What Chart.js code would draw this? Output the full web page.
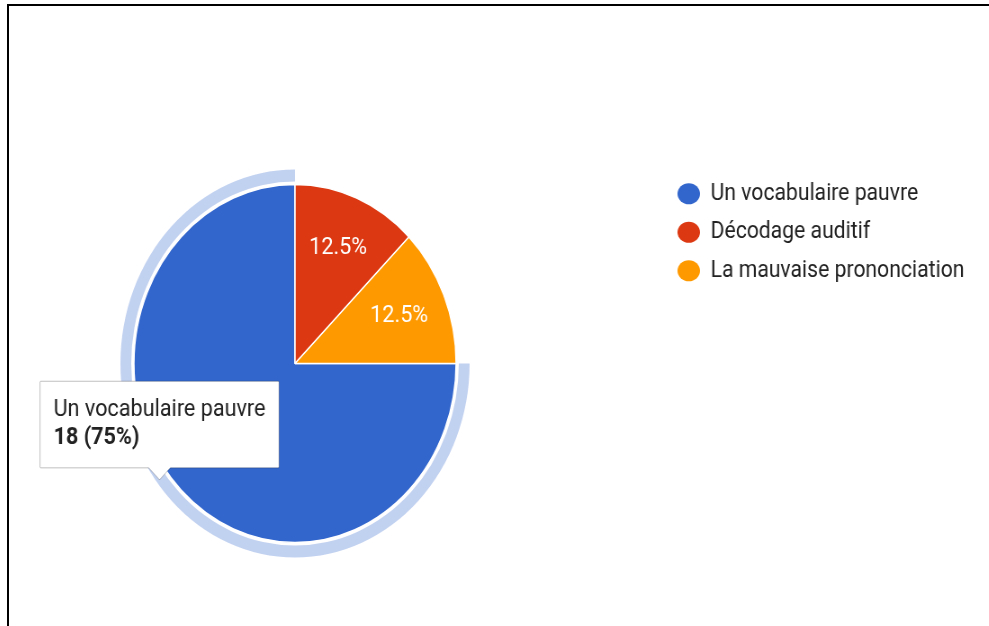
<!DOCTYPE html>
<html>
<head>
<meta charset="utf-8">
<script src="https://cdn.jsdelivr.net/npm/chart.js@4.4.1/dist/chart.umd.min.js"></script>
<style>
  html, body { margin: 0; padding: 0; background: #fff; overflow: hidden; }
  body { width: 989px; height: 626px; position: relative; }
  #wrap {
    position: absolute; left: -74px; top: 0;
    width: 1181px; height: 626px;
    transform: scaleX(0.9); transform-origin: 0 0;
  }
  #frame {
    position: absolute; left: 7px; top: 4px; right: 0; bottom: 0;
    border-top: 2px solid #000; border-left: 2px solid #000;
  }
</style>
</head>
<body>
<div id="wrap"><canvas id="pie" width="1181" height="626"></canvas></div>
<div id="frame"></div>
<script>
// answers and counts
const labels = ['Un vocabulaire pauvre', 'Décodage auditif', 'La mauvaise prononciation'];
const counts = [18, 3, 3];
const colors = ['#3366cc', '#dc3912', '#ff9900'];
const hoverRing = 'rgba(51, 102, 204, 0.3)';
const hovered = 0; // slice under the mouse in the screenshot

const FONT = 'Roboto, "Noto Sans", Arial, sans-serif';
const LEGEND_WIDTH = 361;

const total = counts.reduce((a, b) => a + b, 0);
function pct(v) {
    return (Math.round(v / total * 1000) / 10) + '%';
}

// keep the legend box a fixed width so the pie sits where it should
const legendWidth = {
    id: 'legendWidth',
    beforeInit(chart) {
        const fit = chart.legend.fit;
        chart.legend.fit = function () {
            fit.call(this);
            this.width = LEGEND_WIDTH;
        };
    }
};

// percentage text inside each slice
const sliceLabels = {
    id: 'sliceLabels',
    afterDatasetsDraw(chart) {
        const ctx = chart.ctx;
        const meta = chart.getDatasetMeta(2);
        ctx.save();
        ctx.fillStyle = '#fff';
        ctx.font = '24px ' + FONT;
        ctx.textAlign = 'center';
        ctx.textBaseline = 'middle';
        meta.data.forEach((arc, i) => {
            const p = arc.getProps(['x', 'y', 'startAngle', 'endAngle', 'outerRadius'], true);
            const mid = (p.startAngle + p.endAngle) / 2;
            const r = p.outerRadius * 0.7;
            ctx.fillText(pct(counts[i]), p.x + Math.cos(mid) * r, p.y + Math.sin(mid) * r);
        });
        ctx.restore();
    }
};

Chart.Tooltip.positioners.bubbleSpot = function (items) {
    if (!items.length) return false;
    const el = items[0].element;
    return { x: el.x - 0.841 * el.outerRadius, y: el.y + 0.65 * el.outerRadius };
};

const chart = new Chart(document.getElementById('pie'), {
    type: 'pie',
    data: {
        labels: labels,
        datasets: [
            {
                // highlight ring around the hovered slice
                data: counts,
                backgroundColor: counts.map((c, i) => i === hovered ? hoverRing : 'rgba(0,0,0,0)'),
                borderWidth: 0,
                weight: 12
            },
            {
                data: counts,
                backgroundColor: 'rgba(0,0,0,0)',
                borderWidth: 0,
                weight: 3
            },
            {
                data: counts,
                backgroundColor: colors,
                borderColor: '#fff',
                borderWidth: 1.5,
                weight: 179
            }
        ]
    },
    options: {
        responsive: false,
        animation: false,
        events: [],
        rotation: 90,
        radius: 194,
        layout: { padding: { left: 0, right: 0, top: 167, bottom: 66 } },
        plugins: {
            legend: {
                position: 'right',
                align: 'start',
                labels: {
                    font: { family: FONT, size: 23.5 },
                    color: '#222',
                    usePointStyle: true,
                    pointStyleWidth: 25,
                    boxHeight: 15,
                    padding: 15,
                    generateLabels() {
                        return labels.map((t, i) => ({
                            text: t,
                            fillStyle: colors[i],
                            strokeStyle: colors[i],
                            lineWidth: 0,
                            pointStyle: 'circle',
                            fontColor: '#222',
                            hidden: false,
                            index: i
                        }));
                    }
                }
            },
            tooltip: {
                position: 'bubbleSpot',
                xAlign: 'center',
                yAlign: 'bottom',
                backgroundColor: '#fff',
                borderColor: 'rgba(0,0,0,0.25)',
                borderWidth: 1,
                cornerRadius: 1,
                caretSize: 12,
                caretPadding: 0,
                displayColors: false,
                padding: { top: 14, bottom: 15, left: 15, right: 15 },
                titleFont: { family: FONT, size: 24, weight: 'normal' },
                bodyFont: { family: FONT, size: 24, weight: 'bold' },
                titleColor: '#222',
                bodyColor: '#222',
                titleMarginBottom: 0,
                callbacks: {
                    title: items => items[0].label,
                    label: item => item.raw + ' (' + pct(item.raw) + ')'
                }
            }
        }
    },
    plugins: [legendWidth, sliceLabels]
});

chart.tooltip.setActiveElements([{ datasetIndex: 2, index: hovered }], { x: 0, y: 0 });
chart.update();
</script>
</body>
</html>
